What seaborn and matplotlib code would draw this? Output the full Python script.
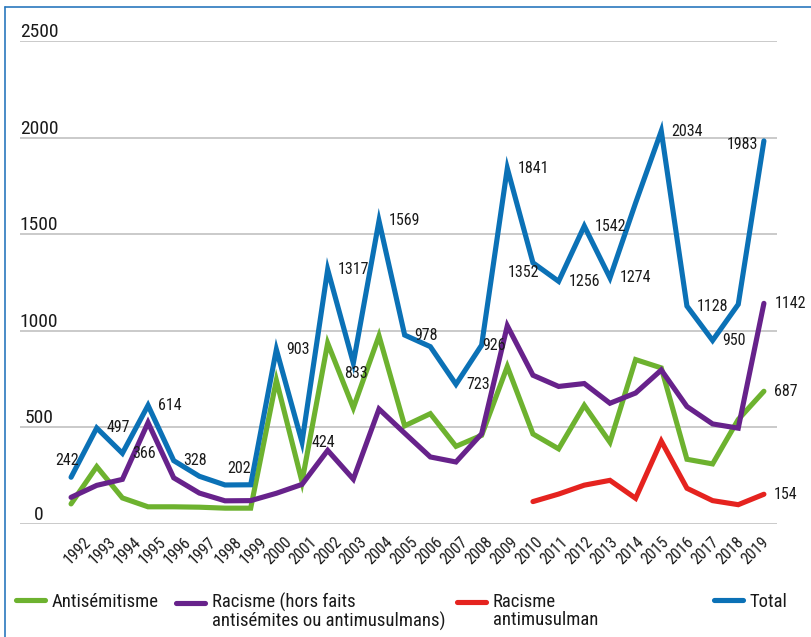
import numpy as np
import pandas as pd
import matplotlib
matplotlib.use("Agg")
import matplotlib.pyplot as plt
import seaborn as sns
from matplotlib.lines import Line2D
from matplotlib.transforms import Affine2D, ScaledTranslation, blended_transform_factory
from matplotlib.legend_handler import HandlerLine2D

# ---- data -----------------------------------------------------------------
years = list(range(1992, 2020))

antisemitisme = [104, 297, 135, 89, 89, 87, 82, 82, 744, 219, 936, 601, 974, 508,
                 571, 402, 459, 815, 466, 389, 614, 423, 851, 808, 335, 311, 541, 687]
racisme_hors = [138, 200, 231, 525, 239, 160, 120, 121, 159, 205, 381, 232, 595, 470,
                347, 321, 467, 1026, 770, 712, 727, 625, 678, 797, 608, 518, 496, 1142]
antimusulman_years = list(range(2010, 2020))
antimusulman = [116, 155, 201, 226, 133, 429, 185, 121, 100, 154]
total = [242, 497, 366, 614, 328, 247, 202, 203, 903, 424, 1317, 833, 1569, 978,
         918, 723, 926, 1841, 1352, 1256, 1542, 1274, 1662, 2034, 1128, 950, 1137, 1983]

series_names = ["Antisémitisme",
                "Racisme (hors faits\nantisémites ou antimusulmans)",
                "Racisme\nantimusulman",
                "Total"]
colors = ["#6db22f", "#67228b", "#e5231f", "#0b71b6"]

y_ticks = [0, 500, 1000, 1500, 2000, 2500]

# ---- long-form table ------------------------------------------------------
frames = [
    pd.DataFrame({"year": years, "value": antisemitisme, "serie": series_names[0]}),
    pd.DataFrame({"year": years, "value": racisme_hors, "serie": series_names[1]}),
    pd.DataFrame({"year": antimusulman_years, "value": antimusulman, "serie": series_names[2]}),
    pd.DataFrame({"year": years, "value": total, "serie": series_names[3]}),
]
df = pd.concat(frames, ignore_index=True)

# ---- style ----------------------------------------------------------------
sns.set_style("white")
plt.rcParams["font.family"] = ["Roboto Condensed", "DejaVu Sans"]
text_color = "#1a1a1a"

W, H, DPI = 812, 637, 100
fig = plt.figure(figsize=(W / DPI, H / DPI), dpi=DPI)
ax = fig.add_axes([20 / W, 1 - 524 / H, (777 - 20) / W, (524 - 41) / H])

sns.lineplot(data=df, x="year", y="value", hue="serie", hue_order=series_names,
             palette=colors, linewidth=3.7, estimator=None, legend=False, ax=ax)
for ln, name in zip(ax.lines, series_names):
    ln.set_solid_capstyle("round")
    ln.set_solid_joinstyle("miter")
    ln.set_label(name)
    ln.set_clip_on(False)

ax.set_xlim(1990.01, 2019.51)
ax.set_ylim(0, 2500)
for s in ax.spines.values():
    s.set_visible(False)
ax.set_xlabel("")
ax.set_ylabel("")

# horizontal grid
ax.set_yticks(y_ticks)
ax.yaxis.grid(True, color="#c6c6c6", linewidth=1.3)
ax.xaxis.grid(False)
ax.set_axisbelow(True)
ax.tick_params(axis="y", left=False, labelleft=False)

# y labels sit centred just above each grid line
ytrans = blended_transform_factory(ax.transAxes, ax.transData) + \
    ScaledTranslation(0, 9 / DPI, fig.dpi_scale_trans)
for v in y_ticks:
    ax.text((39 - 20) / (777 - 20), v, str(v), transform=ytrans, ha="center",
            va="center", fontsize=14, color=text_color)

# rotated year labels, packed slightly tighter than the points
ax.set_xticks(years)
ax.set_xticklabels([str(y) for y in years], rotation=45, ha="center", va="top",
                   fontsize=11.5, color=text_color)
ax.tick_params(axis="x", bottom=False, pad=4)
for i, lbl in enumerate(ax.get_xticklabels()):
    dx = 6.5 - 0.56 * i
    lbl.set_transform(lbl.get_transform() +
                      ScaledTranslation(dx / DPI, 0, fig.dpi_scale_trans))


# value labels next to the points
def put(vals, xs, i, dx=10, dy=0, ha="left"):
    ax.annotate(str(vals[i]), (xs[i], vals[i]), xytext=(dx * 0.72, -dy * 0.72),
                textcoords="offset points", ha=ha, va="center",
                fontsize=11.5, color=text_color, annotation_clip=False)


yi = {y: i for i, y in enumerate(years)}
put(total, years, yi[1992], -4, -17, "center")
for y in [1993, 1994, 1995, 1996, 2000, 2001, 2002, 2004, 2005, 2007, 2009,
          2011, 2012, 2013, 2015, 2016, 2017]:
    put(total, years, yi[y])
put(total, years, yi[1998], 14, -16, "center")
put(total, years, yi[2003], 3, 10, "center")
put(total, years, yi[2008], 1, 0)
put(total, years, yi[2010], -9, 10, "center")
put(total, years, yi[2019], -6, 4, "right")
put(racisme_hors, years, yi[2019], 11, 0)
put(antisemitisme, years, yi[2019], 10, 0)
put(antimusulman, antimusulman_years, len(antimusulman) - 1, 10, 0)


# legend: handle lined up with the first text line
class FirstLineHandler(HandlerLine2D):
    def __init__(self, lift_px=0, **kw):
        super().__init__(**kw)
        self.lift_px = lift_px

    def create_artists(self, legend, orig_handle, xdescent, ydescent, width,
                       height, fontsize, trans):
        trans = trans + Affine2D().translate(0, self.lift_px)
        return super().create_artists(legend, orig_handle, xdescent, ydescent,
                                      width, height, fontsize, trans)


legend_x = [16, 176, 457, 714]
for ln, x0 in zip(ax.lines, legend_x):
    lift = 9.5 if "\n" in ln.get_label() else 0
    leg = fig.legend(handles=[ln], labels=[ln.get_label()], loc="upper left",
                     bbox_to_anchor=(x0 / W, 1 - 593 / H), frameon=False,
                     fontsize=13.5, handlelength=1.55, handletextpad=0.35,
                     borderpad=0, borderaxespad=0, labelspacing=0,
                     handler_map={ln: FirstLineHandler(lift_px=lift)})
    for t in leg.get_texts():
        t.set_color(text_color)
        t.set_linespacing(1.0)

# thin frame along the top and left edges
frame_c = "#2a78bd"
fig.add_artist(Line2D([5 / W, 1], [1 - 7 / H, 1 - 7 / H], transform=fig.transFigure,
                      color=frame_c, linewidth=1.2))
fig.add_artist(Line2D([5 / W, 5 / W], [0, 1 - 7 / H], transform=fig.transFigure,
                      color=frame_c, linewidth=1.2))

fig.savefig("out.png", dpi=DPI)
